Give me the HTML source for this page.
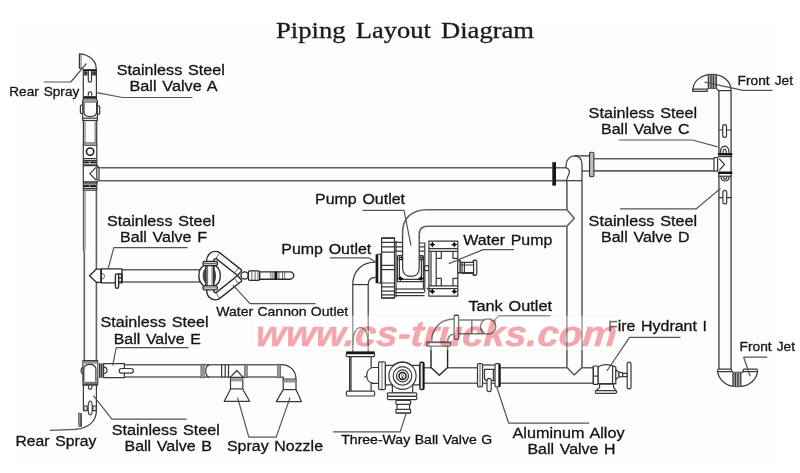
<!DOCTYPE html>
<html>
<head>
<meta charset="utf-8">
<title>Piping Layout Diagram</title>
<style>
  html, body { margin: 0; padding: 0; background: #ffffff; }
  body { width: 800px; height: 473px; overflow: hidden; font-family: "Liberation Sans", sans-serif; }
  svg { display: block; position: absolute; left: 0; top: 0; }
  .l { fill: none; stroke: #383838; stroke-width: 1.2; stroke-linecap: butt; stroke-linejoin: round; }
  .t { fill: none; stroke: #555; stroke-width: 0.9; }
  .k { fill: #161616; stroke: none; }
  .w { fill: #fdfdfb; stroke: #383838; stroke-width: 1.2; stroke-linejoin: round; }
  #cannon .l, #cannon .w { stroke: #2a2a2a; stroke-width: 1.35; }
  #pipes { stroke: #626262; stroke-width: 1.6; }
  #tank .l, #tank .w { stroke: #242424; stroke-width: 1.4; }
  .lead { fill: none; stroke: #545454; stroke-width: 1.2; stroke-linejoin: round; }
  text { font-family: "Liberation Sans", sans-serif; fill: #141414; }
  .ttl { font-family: "Liberation Serif", serif; fill: #1a1a1a; }
  .wm { font-family: "Liberation Sans", sans-serif; font-weight: bold; font-style: italic; fill: #e8505c; }
</style>
</head>
<body>
<svg width="800" height="473" viewBox="0 0 800 473">
  <!-- paper -->
  <rect x="0" y="0" width="800" height="473" fill="#ffffff"/>
  <defs><filter id="soft" x="-5%" y="-5%" width="110%" height="110%"><feGaussianBlur stdDeviation="1.6"/></filter></defs>
  <rect x="18" y="22.5" width="758" height="440" fill="#fdfdfb" filter="url(#soft)"/>

  <rect x="253" y="315.6" width="365" height="34.6" fill="#ffffff" stroke="#f1f1ef" stroke-width="0.6"/>

  <!-- TITLE -->
  <g font-size="22.3" stroke="#1a1a1a" stroke-width="0.3" opacity="0.995">
    <text x="276" y="38.2" textLength="69.5" lengthAdjust="spacingAndGlyphs" class="ttl">Piping</text>
    <text x="355.8" y="38.2" textLength="75" lengthAdjust="spacingAndGlyphs" class="ttl">Layout</text>
    <text x="441" y="38.2" textLength="93" lengthAdjust="spacingAndGlyphs" class="ttl">Diagram</text>
  </g>

  <!-- ============ MAIN PIPES ============ -->
  <g id="pipes" class="l">
    <!-- left vertical pipe -->
    <path d="M83.6 190 V250 L84.3 252 V360.6 M96.4 190 V269.2 M96.4 282.3 V360.6"/>
    <path d="M85.3 191 V250" stroke="#888" stroke-width="0.9"/>
    <!-- top horizontal pipe -->
    <path d="M99 167.7 H552.3 M99 180.8 H552.3 M556 167.7 H566 M556 180.6 H566"/>
    <!-- right part after elbow -->
    <path d="M593.9 158.7 H714 M593.9 170.9 H714"/>
    <!-- right vertical pipe -->
    <path d="M718.9 90.6 V153.1 M718.9 174 V369.2 M731.1 90.6 V369.2"/>
    <!-- middle vertical pipe -->
    <path d="M566.9 180.6 V209.8 M566.9 226.2 V367.4 L574.3 375 L582 367.4 V171"/>
    <!-- pump outlet upper -->
    <path d="M402.6 238 V232 C402.6 218 412 209.8 427 209.8 H566.9 L574.3 218.2 L566.9 226.2 H427.5 C422 226.2 419.2 229 419.2 234.5 V238"/>
    <!-- bottom horizontal pipe -->
    <path d="M424.1 367.8 H431 M447.6 367.8 H566.9 M582 367.8 H593.2 M424.1 383.2 H593.2"/>
    <!-- spray pipe E -->
    <path d="M124.4 364.8 H281 M124.4 377 H230.5 M243.1 377 H281"/>
    <!-- cannon pipe F -->
    <path d="M122 269.7 H199.6 M122 282 H199.6"/>
  </g>

  <!-- ============ TOP-LEFT: rear spray elbow + valve A + tee ============ -->
  <g id="topleft">
    <!-- rear spray elbow -->
    <path class="l" d="M79.4 68.4 V53.8 C88 54.2 95.2 59.5 96.1 67 V69.6"/>
    <path class="t" d="M81 54.3 V68.2"/>
    <path class="l" d="M79.4 68.4 H83.3"/>
    <!-- valve A body -->
    <path class="l" d="M83.3 69.6 V100 M96.4 69.6 V100"/>
    <rect class="k" x="83" y="69.2" width="13.7" height="1.8"/>
    <rect x="84.2" y="71" width="3.2" height="4.6" fill="#555"/>
    <rect x="92.3" y="71" width="3.6" height="4.6" fill="#555"/>
    <path class="l" d="M84.2 72.6 H87.4 M84.2 74.2 H87.4 M92.3 72.6 H95.9 M92.3 74.2 H95.9" stroke="#222"/>
    <path class="l" d="M88.3 70.5 V80.6 A1.6 1.6 0 0 0 91.5 80.6 V70.5"/>
    <path class="l" d="M88.3 95.8 V93.6 A1.7 1.7 0 0 1 91.7 93.6 V95.8" stroke="#222" stroke-width="1.3"/>
    <rect class="k" x="83.6" y="96.2" width="13" height="2.5"/>
    <path class="l" d="M82.7 100 H97.4 M82.7 102 H97.4"/>
    <!-- coupling -->
    <path class="l" d="M82.7 100 V121 M97.4 100 V121"/>
    <path class="l" d="M84 102.5 V112 C84 115 86.5 116.6 90 116.6 C93.6 116.6 96.6 115 96.6 112 V102.5"/>
    <rect class="w" x="80.4" y="105.2" width="2.4" height="8.4" rx="1" fill="#ddd"/>
    <rect class="w" x="97.3" y="105.8" width="2.4" height="8.4" rx="1" fill="#ddd"/>
    <path class="l" d="M82.7 118.2 H97.4"/>
    <path class="l" d="M82.7 120.5 H97.4" stroke="#222" stroke-width="1.5"/>
    <!-- pipe section -->
    <path class="l" d="M83.4 121 V143 M96.7 121 V143"/>
    <path class="t" d="M85 121.5 V142.5 M95.2 121.5 V142.5" stroke="#888"/>
    <!-- O box -->
    <path class="l" d="M83 143 H97 M83 145.2 H97" stroke="#222" stroke-width="1.2"/>
    <path class="l" d="M83.3 143 V190 M96.8 143 V167"/>
    <circle cx="90.1" cy="151.6" r="3.7" fill="none" stroke="#1a1a1a" stroke-width="1.5"/>
    <path class="l" d="M83 158.7 H97 M83 160.5 H97 M83 164.8 H97"/>
    <rect class="k" x="83.6" y="161.4" width="12.8" height="1.9"/>
    <rect x="89" y="161.8" width="1.2" height="1.1" fill="#fff"/>
    <!-- tee -->
    <path class="l" d="M83.3 165.6 H97.6 V167.4 M97.6 180 V182 H83.3"/>
    <path class="l" d="M96.8 167.4 H99 V180 H96.8"/>
    <path class="l" d="M96.8 167.4 V180" stroke="#777"/>
    <path class="l" d="M96 167.4 L89.8 173.7 L96 180" stroke="#222" stroke-width="1.2"/>
    <path class="l" d="M83 182 H97.4" stroke="#222" stroke-width="1.3"/>
    <path class="l" d="M83 183.9 H97 M83 188.3 H97 M83 190.2 H97"/>
    <rect class="k" x="83.6" y="185.1" width="12.8" height="1.9"/>
    <rect x="89" y="185.5" width="1.2" height="1.1" fill="#fff"/>
    <path class="l" d="M96.8 182 V190"/>
  </g>

  <!-- ============ VALVE F + WATER CANNON ============ -->
  <g id="cannon">
    <!-- tip into left pipe -->
    <path class="w" d="M101.2 269.1 H96.4 L89.5 275.7 L96.4 282.3 H101.2 Z"/>
    <!-- valve F body -->
    <rect class="w" x="101.2" y="268.9" width="20.9" height="14"/>
    <path class="l" d="M101.3 268.9 V282.9" stroke="#222" stroke-width="1.6"/>
    <path class="t" d="M101.6 273.4 A2.9 2.9 0 0 1 101.6 279.2" stroke="#333" stroke-width="1"/>
    <rect class="w" x="118.4" y="274" width="3.2" height="7.8" fill="#eee"/>
    <path class="l" d="M118.4 277.9 H121.6"/>
    <rect class="w" x="115.4" y="273.8" width="3.2" height="14.5" rx="1.5"/>
    <!-- pipe F already drawn; cannon ball -->
    <path class="l" d="M199.6 269.6 V282.2"/>
    <path class="w" d="M206 264.8 C201 266 198.9 270.5 198.9 275.6 C198.9 280.8 201 285.2 206 286.6 Z"/>
    <path d="M205.8 268 C201.6 270.4 201.6 281 205.8 283.4 Z" fill="#4a4a4a"/>
    <path class="w" d="M213.7 264.8 C218 266.4 220.3 270.5 220.3 275.6 C220.3 280.8 218 285 213.7 286.6 Z"/>
    <path d="M213.9 268.4 C216.8 270.6 216.8 280.8 213.9 283 Z" fill="#4a4a4a"/>
    <rect class="w" x="206" y="265" width="7.7" height="21.3"/>
    <path class="t" d="M207.6 265.5 V285.8 M212.1 265.5 V285.8" stroke="#888"/>
    <rect class="w" x="203" y="261.5" width="14.4" height="4" rx="1.6"/>
    <rect class="w" x="203" y="285.9" width="14.4" height="4" rx="1.6"/>
    <path class="t" d="M204 263.5 H216.5 M204 287.9 H216.5" stroke="#888"/>
    <!-- Y arms -->
    <path class="l" d="M206.6 261.5 C206.6 255 210.5 251.2 216 251.4 C217.6 251.5 218.8 252 219.8 252.8 L242 270.4"/>
    <path class="l" d="M213.6 261.5 C213.6 259.6 214.6 258.3 216.2 258.6 L237.6 275.5"/>
    <path class="l" d="M206.6 289.9 C206.6 296.2 210.5 300 216 299.8 C217.6 299.7 218.8 299.2 219.8 298.4 L242 280.8"/>
    <path class="l" d="M213.6 289.9 C213.6 291.6 214.6 292.9 216.2 292.6 L237.6 275.5"/>
    <path class="t" d="M219.8 252.8 L215.8 258.4 M219.8 298.4 L215.8 292.8 M238.6 267.8 L234.4 273 M238.6 283.4 L234.4 278.2"/>
    <path class="l" d="M237.6 275.5 L242 270.4 M237.6 275.5 L242 280.8"/>
    <circle class="w" cx="244.6" cy="275.5" r="3.7"/>
    <!-- nozzle -->
    <rect class="w" x="248.4" y="270.8" width="11.3" height="9.6" rx="1.6"/>
    <path class="t" d="M251.9 270.8 V280.4 M255.1 270.8 V280.4 M258 270.8 V280.4" stroke="#333"/>
    <path class="w" d="M259.7 271.8 H290 A3.7 3.7 0 0 1 290 279.2 H259.7 Z"/>
    <path class="t" d="M270.8 271.8 V279.2 M272.9 271.8 V279.2 M278.9 271.8 V279.2 M282.5 271.8 V279.2 M284.7 271.8 V279.2" stroke="#333"/>
    <rect class="k" x="274.4" y="271.6" width="2.9" height="7.8"/>
  </g>

  <!-- ============ BOTTOM-LEFT: tee, valve E, valve B, rear spray elbow ============ -->
  <g id="botleft">
    <!-- tee body -->
    <rect class="w" x="82.9" y="360.6" width="14.8" height="24.3"/>
    <rect x="83.4" y="361" width="13.8" height="2.6" fill="#8a8a8a"/>
    <rect x="83.4" y="381.8" width="13.8" height="2.8" fill="#777"/>
    <path class="l" d="M83.8 381.8 V369.5 C83.8 366 86 364.3 89.9 364.3 C93.8 364.3 95.9 366 95.9 369.5 V381.8" stroke="#222" stroke-width="1.5" fill="#fdfdfb"/>
    <path class="l" d="M83 367 C80.4 368 80.4 373.4 83 374.4"/>
    <path class="l" d="M82.9 384.9 H97.7" stroke="#222" stroke-width="1.3"/>
    <!-- connector to valve E -->
    <rect x="97.7" y="363.5" width="5.9" height="14.2" fill="#bbb"/>
    <path class="l" d="M99.6 363.3 V377.9 M103.2 363.3 V377.9" stroke="#222" stroke-width="1.5"/>
    <path class="l" d="M101.3 363.5 V377.7" stroke-width="0.8"/>
    <!-- valve E body -->
    <path class="w" d="M103.6 363.7 H124.4 V377.7 H103.6 Z"/>
    <path class="l" d="M103.8 367.1 A3.2 3.2 0 0 1 103.8 373.5" stroke-width="1.2" stroke="#222"/>
    <rect class="w" x="119.2" y="368.5" width="14.2" height="4.6" rx="2.3"/>
    <!-- below tee: valve B -->
    <path class="l" d="M83.4 385 V410.7 M96.4 385 V410.7"/>
    <path class="l" d="M88.5 385.6 V387.6 A1.7 1.7 0 0 0 91.9 387.6 V385.6"/>
    <rect class="w" x="83.9" y="406" width="3.2" height="4.7" stroke="#222" stroke-width="1.4"/>
    <rect class="w" x="92.9" y="406" width="3.2" height="4.7" stroke="#222" stroke-width="1.4"/>
    <path class="l" d="M87 408.3 H93"/>
    <ellipse class="w" cx="90.2" cy="408" rx="2.1" ry="6.9"/>
    <!-- rear spray elbow (bottom) -->
    <path class="l" d="M96.4 410.7 C96.4 421 88 428.6 76 429.2"/>
    <path d="M78.4 413 L81 413.4 L81.2 426.6 L78.8 426.4 Z" fill="#999" stroke="#444" stroke-width="0.7"/>
    <path class="l" d="M81.2 413.4 V426.6" stroke="#222"/>
  </g>

  <!-- ============ SPRAY PIPE + NOZZLES ============ -->
  <g id="spray">
    <rect x="200.9" y="364.2" width="3.3" height="13.6" fill="#999" stroke="#555" stroke-width="0.7"/>
    <path class="l" d="M209.2 364.8 C204.6 366 204.6 376 209.2 377.2"/>
        <path class="l" d="M221.6 364.2 V377.8 M225.2 364.2 V377.8" stroke="#333" stroke-width="1.6"/>
    <path class="l" d="M228.5 364.2 V377.8" stroke-width="1"/>
    <path class="l" d="M230.5 377.2 L236.7 370.5 L243.1 377.2" stroke="#222"/>
    <rect x="244.6" y="364.2" width="2.6" height="13.6" fill="#999" stroke="#555" stroke-width="0.7"/>
    <rect x="277.7" y="364.2" width="2.9" height="13.6" fill="#999" stroke="#555" stroke-width="0.7"/>
    <!-- nozzle 1 -->
    <path class="w" d="M230.5 377.4 H242.8 V389.3 L249.6 401.3 H224.2 L230.5 389.3 Z"/>
    <rect x="230.9" y="378.2" width="11.5" height="3.2" fill="#999"/>
    <path class="l" d="M230.5 388.9 H242.8"/>
    <!-- elbow -->
    <path class="l" d="M281 364.6 C290 364.6 296 370.5 296 379.4"/>
    <path class="l" d="M281 377.2 H283.2 V379.4"/>
    <!-- nozzle 2 -->
    <path class="w" d="M283.2 379.2 H296 V389.6 L301.4 401.6 H276.3 L283.2 389.6 Z"/>
    <rect x="283.6" y="379.4" width="12" height="3.2" fill="#999"/>
    <path class="l" d="M283.2 389.6 H296"/>
  </g>

  <!-- ============ PUMP ============ -->
  <g id="pump">
    <!-- lower-left outlet elbow -->
    <path class="l" d="M375.6 262.2 C362 262.2 352.8 271 352.8 284.6 V351.6"/>
    <path class="l" d="M375.6 277.4 C371 277.6 368.2 280.4 368.2 284.6 V351.6"/>
    <path class="l" d="M352.8 284.6 H368.2"/>
    <path class="l" d="M352.8 346 C353 334 356 327.6 360.5 327.6 C365 327.6 368 334 368.2 346"/>
    <!-- black flange -->
    <rect class="k" x="375.6" y="254.2" width="2.7" height="29"/>
    <path class="l" d="M378.3 254.2 H380.7 V283.2 H378.3"/>
    <!-- ribbed drum -->
    <rect class="w" x="381.6" y="237.9" width="12.9" height="60.2"/>
    <path class="l" d="M381.2 238.4 H394.8 M381.2 242.4 H394.8 M381.2 246.8 H394.8 M381.2 252.2 H394.8 M381.2 283 H394.8 M381.2 286.8 H394.8 M381.2 291.2 H394.8 M381.2 294.9 H394.8 M381.2 297.9 H394.8" stroke="#222" stroke-width="1.5"/>
    <path class="l" d="M381.6 265.3 H394.4 M381.6 269.6 H394.4" stroke-width="1"/>
    <path class="l" d="M396 241 V297" stroke-width="0.8"/>
    <!-- connecting rods upper-left -->
    <path class="l" d="M394.4 242.4 H402.6 M394.4 246.8 H402.6 M394.4 251.2 H402.6" stroke-width="1"/>
    <!-- right stacked blocks -->
    <path class="l" d="M418.6 243 H424.6 M418.6 246.8 H424.6 M418.6 251.2 H424.6" stroke-width="1"/>
    <!-- lower rod -->
    <path class="l" d="M394.4 289 H424.6" stroke="#222" stroke-width="1.4"/>
    <path class="l" d="M394.4 292.7 H424.6 M394.4 295.6 H424.6" stroke-width="1"/>
    <path class="l" d="M423.4 281.6 V289" stroke-width="0.9"/>
    <!-- bracket around U -->
    <path class="l" d="M397.4 255.7 V281.6 H423.4 V255.7 M397.4 255.7 H402.6 M418.6 255.7 H423.4" stroke="#222" stroke-width="1.3"/>
    <path class="l" d="M399.4 260 V279.4 H421.4 V260" stroke-width="0.8"/>
    <g fill="#0c0c0c">
      <path d="M398.6 256.6 h3.6 v3.6 h-3.6z"/><rect x="399.7" y="257.7" width="1.4" height="1.4" fill="#fff"/>
      <path d="M419.2 256.6 h3.6 v3.6 h-3.6z"/><rect x="420.3" y="257.7" width="1.4" height="1.4" fill="#fff"/>
      <path d="M400.3 276.2 l2.2 2.4 -2.2 2.4 -2.2-2.4z M397.6 278.1 h5.6 v1 h-5.6z"/>
      <path d="M421 276.2 l2.2 2.4 -2.2 2.4 -2.2-2.4z M418.2 278.1 h5.6 v1 h-5.6z"/>
    </g>
    <!-- U pipe (upper outlet) -->
    <path class="w" d="M402.6 236 V268 C402.6 273.4 406 276.4 410.9 276.4 C415.8 276.4 419.2 273.4 419.2 268 V236" stroke-width="1.3"/>
    <!-- vertical plate -->
    <path class="l" d="M424.8 242.4 V292" stroke="#222" stroke-width="1.5"/>
    <rect x="424.7" y="265.8" width="4.2" height="4.8" fill="#fdfdfb" stroke="#222" stroke-width="1.1"/>
    <!-- motor body -->
    <rect class="w" x="428.9" y="241.2" width="28.9" height="54.9"/>
    <path class="l" d="M428.9 248.7 H457.8 M428.9 288.6 H457.8" stroke-width="0.9"/>
    <path class="l" d="M428.9 251.4 H457.8 M428.9 285.9 H457.8" stroke="#222" stroke-width="1.5"/>
    <path class="l" d="M431 251.4 V285.9" stroke-width="0.9"/>
    <path class="l" d="M436.2 251.4 V285.9" stroke="#222" stroke-width="1.3"/>
    <path class="l" d="M436.2 258.4 H441.3 V251.4 M453 251.4 V258.4 H457.8 M436.2 278.3 H441.3 V285.9 M453 285.9 V278.3 H457.8" stroke-width="1.1"/>
    <g fill="#0c0c0c">
      <path d="M432.4 242.2 l1.2 1.2 1.2 1.2 -1.2 1.2 -1.2 1.2 -1.2-1.2 -1.2-1.2 1.2-1.2z M429.8 244.1 h5.2 v1 h-5.2z M431.9 242 h1 v5.2 h-1z"/>
      <path d="M454.3 242.2 l1.2 1.2 1.2 1.2 -1.2 1.2 -1.2 1.2 -1.2-1.2 -1.2-1.2 1.2-1.2z M451.7 244.1 h5.2 v1 h-5.2z M453.8 242 h1 v5.2 h-1z"/>
      <path d="M432.4 289.2 l1.2 1.2 1.2 1.2 -1.2 1.2 -1.2 1.2 -1.2-1.2 -1.2-1.2 1.2-1.2z M429.8 291.1 h5.2 v1 h-5.2z M431.9 289 h1 v5.2 h-1z"/>
      <path d="M454.3 289.2 l1.2 1.2 1.2 1.2 -1.2 1.2 -1.2 1.2 -1.2-1.2 -1.2-1.2 1.2-1.2z M451.7 291.1 h5.2 v1 h-5.2z M453.8 289 h1 v5.2 h-1z"/>
    </g>
    <path class="l" d="M426.8 287.9 L431.4 291.4" stroke="#111" stroke-width="1.3"/>
    <!-- shaft -->
    <rect class="w" x="458" y="260.4" width="2.2" height="12.4"/>
    <rect class="w" x="461.9" y="262.5" width="11" height="11"/>
    <path class="l" d="M460.2 263.5 H461.9 M460.2 272 H461.9 M461.9 268 H472.9 M463.8 262.5 V273.5" stroke-width="0.8"/>
    <rect class="w" x="472.9" y="260" width="3.4" height="15.5" rx="1.6"/>
  </g>
    <!-- shaft -->
    <rect class="w" x="457.7" y="260.8" width="2.5" height="11.8"/>
    <rect class="w" x="460.2" y="262.4" width="13.4" height="10.2"/>
    <path class="l" d="M462 262.4 V272.6 M464.4 262.4 V272.6 M460.2 265 H473.6" stroke-width="0.8"/>
    <rect class="w" x="473.6" y="260.2" width="3.2" height="14.8" rx="1.5"/>
  </g>

  <!-- ============ THREE-WAY VALVE G ============ -->
  <g id="valveG">
    <!-- top flange of tee -->
    <rect class="w" x="346.2" y="353.6" width="28.4" height="3" rx="1"/>
    <rect class="k" x="346.1" y="351.4" width="28.6" height="2.6"/>
    <!-- tee body -->
    <path class="l" d="M349.6 356.6 V391.2 M371.1 356.6 V367.5 M371.1 383.4 V391.2 M351 356.6 V391.2"/>
    <rect class="w" x="346.4" y="391.2" width="28.2" height="4.8" rx="1.2"/>
    <!-- branch -->
    <path class="l" d="M371.1 367.5 H379 M371.1 383.4 H379"/>
    <path class="l" d="M373 367.5 C364.6 368.6 364.6 382.4 373 383.4"/>
    <path class="l" d="M364.2 376.9 H366.8" stroke-width="0.8"/>
    <!-- flange (left of valve) -->
    <rect class="w" x="378.6" y="361.8" width="6.8" height="27.9" rx="1.4" stroke="#2a2a2a" stroke-width="1.4"/>
    <path class="t" d="M382 362.6 V389" stroke="#444"/>
    <!-- housing -->
    <path class="w" d="M385.4 365.3 H393.6 A13.6 13.6 0 0 1 411.4 365.3 H419.6 V384.8 H412.8 C412.9 386.4 412.7 387 412.7 387.6 V392.8 H392.4 V387.6 C392.4 387 392.2 386.4 392.2 384.8 H385.4 Z"/>
    <circle class="l" cx="402.5" cy="375.7" r="13.6"/>
    <circle class="l" cx="402.5" cy="375.9" r="9.3"/>
    <circle class="l" cx="402.5" cy="375.9" r="6"/>
    <circle cx="402.5" cy="375.9" r="3.5" fill="none" stroke="#1a1a1a" stroke-width="1.5"/>
    <path class="l" d="M402.5 376.6 V379.4" stroke-width="1"/>
    <circle cx="402.5" cy="375.6" r="1" fill="#fdfdfb" stroke="#333" stroke-width="0.7"/>
    <!-- right flange -->
    <rect x="419.9" y="362.2" width="3.9" height="27.4" rx="1.3" fill="#e4e4e4" stroke="#1c1c1c" stroke-width="1.4"/>
    <rect x="422.6" y="362.6" width="1.7" height="26.6" fill="#111"/>
    <!-- bottom outlet -->
    <rect class="w" x="387.4" y="392.8" width="29.4" height="3.5" rx="1.2"/>
    <rect class="w" x="387.4" y="396.3" width="29.4" height="3.4" rx="1.2"/>
    <rect class="w" x="397" y="399.7" width="12.6" height="10"/>
    <rect class="w" x="395.9" y="400.3" width="14.7" height="4.1" rx="1"/>
    <rect class="w" x="395.9" y="409.4" width="14.7" height="3.6" rx="0.8"/>
    <path class="l" d="M395.9 413.1 H410.6" stroke="#111" stroke-width="1.6"/>
  </g>

  <!-- ============ TANK OUTLET ============ -->
  <g id="tank">
    <path class="l" d="M431.6 342.3 C431.6 328 440 319.4 454.2 319"/>
    <path class="l" d="M447.5 342.3 C447.5 337.4 450 334.4 454.2 334.2"/>
    <rect class="w" x="426.8" y="342.3" width="23.9" height="3.8" rx="1"/>
    <rect class="k" x="426.6" y="341.5" width="24.3" height="1.7"/>
    <path class="l" d="M431 346.1 V367.4 L439.4 375.2 L447.6 367.4 V346.1"/>
    <rect class="w" x="454.2" y="315.3" width="4.4" height="23.9" rx="1.2"/>
    <path class="l" d="M458.5 320 H484.5 M458.5 333.8 H485.5 M471.8 320 V333.8"/>
    <circle class="l" cx="488.1" cy="326.6" r="7.7"/>
  </g>

  <!-- ============ VALVE H ============ -->
  <g id="valveH">
    <rect x="482" y="364.4" width="13.4" height="18" fill="#fdfdfb"/>
    <path class="l" d="M482.6 365 H494.9"/>
    <path class="l" d="M494.9 369.3 H484.5 V377.6 C484.5 379.6 485.4 380.7 487 380.7 M491.2 380.7 H494.9" stroke-width="1.1"/>
    <path class="l" d="M493.4 369.3 V380.7" stroke="#222" stroke-width="1.3"/>
    <rect class="w" x="477.5" y="363.7" width="5.1" height="23.1" rx="1.4" stroke="#2a2a2a" stroke-width="1.4"/>
    <path class="t" d="M480 364.6 V386" stroke="#777"/>
    <rect class="w" x="495" y="363.7" width="5.1" height="23.1" rx="1.4" stroke="#2a2a2a" stroke-width="1.4"/>
    <rect x="498.4" y="364.2" width="1.9" height="22.2" fill="#111"/>
    <rect class="w" x="487" y="378.3" width="4.2" height="13.3" rx="2.1"/>
  </g>


  <!-- ============ FIRE HYDRANT ============ -->
  <g id="hydrant">
    <rect class="w" x="593.2" y="366" width="5" height="18.4" rx="0.8"/>
    <path class="l" d="M593.4 366 V384.4" stroke="#222" stroke-width="1.5"/>
    <path class="l" d="M593.2 376.1 H598.2"/>
    <path class="w" d="M598.2 367 C600.5 365.2 603 364.6 605.6 364.6 C609.6 364.6 613.4 365.6 615.8 367.3 V383.7 H598.2 Z"/>
    <path class="l" d="M612.6 366 V383.7" stroke-width="0.8"/>
    <path class="w" d="M599.6 384.2 H613.6 V387.4 L616 390.7 H596.2 L599.6 387.4 Z"/>
    <rect class="w" x="595.4" y="390.6" width="21.2" height="2.8" rx="1.2"/>
    <path class="w" d="M615.8 369.8 L618.9 372.2 V376.9 L615.8 379.4 Z"/>
    <rect class="w" x="618.9" y="372.4" width="3.8" height="4.5" rx="1"/>
    <rect class="w" x="622.7" y="373.4" width="4.6" height="3.2"/>
    <rect class="w" x="627.2" y="362.2" width="3.8" height="26.6" rx="1.9"/>
  </g>

  <!-- ============ MIDDLE ELBOW ============ -->
  <g id="elbow">
    <rect class="k" x="552.3" y="162.2" width="3.7" height="23.4"/>
    <path class="l" d="M566 167.8 V165.4 C566.2 159.8 569.6 155.9 574.6 155.9 H589.5"/>
    <path class="l" d="M574.6 155.9 C579 156.1 581.8 159.2 582 163.8 V171"/>
    <path class="l" d="M582 171 H589.5"/>
    <path class="l" d="M566 167.8 C567.4 168 569.6 169.8 569.4 172 C569.2 175 566.8 177.4 566.6 180.2"/>
    <path class="l" d="M566 180.7 H582"/>
    <rect x="589.5" y="152.3" width="4.4" height="24.5" rx="1.3" fill="#bbb" stroke="#333" stroke-width="1.1"/>
  </g>

  <!-- ============ RIGHT COLUMN ============ -->
  <g id="rightcol">
    <!-- top front jet -->
    <path class="l" d="M692.8 90.4 C693 81 701 74.4 712 74.3 C722.6 74.3 730.8 80.6 731.2 90.6"/>
    <path class="l" d="M692.8 89.2 H707.2 V91.4 H692.8 Z" fill="#777"/>
    <path class="l" d="M707.2 89 L709 88.4 H716.4 L718.6 90.6 H731.2"/>
    <path class="l" d="M709 74.8 V88.4 M716.4 74.8 V88.4"/>
    <rect x="707.9" y="74.8" width="8.6" height="13.6" fill="#aaa"/>
    <path class="l" d="M708.4 74.8 V88.4 M711 74.8 V88.4 M713.4 74.8 V88.4 M716.2 74.8 V88.4" stroke="#222" stroke-width="1.2"/>
    <!-- valve C -->
    <path class="l" d="M718.7 130 H722.8 M726.5 130 H731.4"/>
    <rect class="w" x="722.7" y="124.6" width="3.8" height="12.8" rx="1.9"/>
    <path class="l" d="M720.4 153.1 C720.4 148.4 722.2 146.2 724.7 146.2 C727.2 146.2 729 148.4 729 153.1" stroke="#222" stroke-width="1.3"/>
    <path class="l" d="M723 153.1 C723 150 723.6 149 724.7 149 C725.8 149 726.3 150 726.3 153.1" stroke="#222" stroke-width="0.9"/>
    <rect class="k" x="717.8" y="153.1" width="14.6" height="2.4" rx="0.8"/>
    <path class="l" d="M718 156.6 H732"/>
    <!-- tee with > -->
    <path class="w" d="M714 157.6 H717.6 V171.2 H714 Z" fill="#ddd"/>
    <path class="l" d="M719.2 158.6 L724.4 164.5 L719.2 170.4" stroke="#222" stroke-width="1.2"/>
    <rect class="k" x="717.8" y="171.6" width="14.6" height="2.4" rx="0.8"/>
    <path class="l" d="M718 176.2 H732"/>
    <path class="l" d="M721 176.2 C721 179.6 722.6 181 725 181 C727.4 181 729.2 179.6 729.2 176.2" stroke="#222"/>
    <path class="l" d="M723.4 176.4 C723.4 178.6 724 179.2 725 179.2 C726 179.2 726.8 178.6 726.8 176.4" stroke="#222" stroke-width="0.9"/>
    <!-- valve D handle -->
    <path class="l" d="M718.7 197.7 H722.9 M726.7 197.7 H731.4"/>
    <rect class="w" x="722.9" y="190.4" width="3.8" height="13.4" rx="1.9"/>
    <!-- bottom front jet -->
    <path class="l" d="M717.5 370 C718 379.6 726 386.7 737.6 386.7 C749.2 386.7 757.2 379.6 757.7 370"/>
    <path class="l" d="M717.5 369.2 H731.1 L732.7 372.4 H742.5 L743.7 369.2 H757.7 M717.5 371.6 H731.6 M743.4 371.6 H757.7"/>
    <rect x="732.6" y="372.4" width="8.6" height="14" fill="#aaa"/>
    <path class="l" d="M733 372.4 V386.2 M735.4 372.4 V386.6 M738 372.4 V386.6 M740.8 372.4 V386.4" stroke="#222" stroke-width="1.2"/>
  </g>

  <!-- ============ LEADER LINES ============ -->
  <g id="leaders" class="lead">
    <path d="M86.4 63.5 L70.8 82 H43.8"/>
    <path d="M96.6 92.6 L122.5 97.5 H192.5"/>
    <path d="M704.6 82.2 L743 90.4 H772.5"/>
    <path d="M618.8 140 H692.5 L717.5 146.8"/>
    <path d="M620 208.8 H696.3 L720.6 188.4"/>
    <path d="M362.5 210.4 H404 L411 245.6"/>
    <path d="M330 257.8 H368.6 L375.6 262"/>
    <path d="M448.8 263.6 L483.2 249.6 H514"/>
    <path d="M108.2 268.6 L113.8 247.6 H187.7"/>
    <path d="M232.9 285.2 L250 303.6 H315.5"/>
    <path d="M112.7 365.6 L116.2 347.7 H188.6"/>
    <path d="M493.6 321.1 L498.6 315.8 H550.5"/>
    <path d="M606.9 371 L629.5 337.3 H680.5"/>
    <path d="M750.1 376.2 L743.7 357.2 H767.2"/>
    <path d="M76 429.3 L50 430.3"/>
    <path d="M93.4 395.6 L111.9 419.2 H186.5"/>
    <path d="M237.6 397.6 L248.8 437.1 H276.2 L290 397.6"/>
    <path d="M406.1 413.6 L400.2 431.9 H333"/>
    <path d="M497 387.8 L508.7 423.2 H589.1"/>
  </g>

  <!-- ============ TEXT ============ -->
  <g id="labels" style="word-spacing:1.2px" opacity="0.995" stroke="#141414" stroke-width="0.3">
    <text x="9.25" y="96" font-size="13.4" textLength="70" lengthAdjust="spacingAndGlyphs">Rear Spray</text>
    <text x="116.75" y="74.8" font-size="15.2" textLength="108" lengthAdjust="spacingAndGlyphs">Stainless Steel</text>
    <text x="129.5" y="91.3" font-size="15.2" textLength="88" lengthAdjust="spacingAndGlyphs">Ball Valve A</text>
    <text x="737.5" y="85" font-size="13.4" textLength="55.5" lengthAdjust="spacingAndGlyphs">Front Jet</text>
    <text x="588.6" y="118" font-size="15.2" textLength="108.6" lengthAdjust="spacingAndGlyphs">Stainless Steel</text>
    <text x="601" y="134.25" font-size="15.2" textLength="88.5" lengthAdjust="spacingAndGlyphs">Ball Valve C</text>
    <text x="588.6" y="225.5" font-size="15.2" textLength="108.6" lengthAdjust="spacingAndGlyphs">Stainless Steel</text>
    <text x="601" y="241.5" font-size="15.2" textLength="88.5" lengthAdjust="spacingAndGlyphs">Ball Valve D</text>
    <text x="315" y="204.25" font-size="15.2" textLength="90" lengthAdjust="spacingAndGlyphs">Pump Outlet</text>
    <text x="281.25" y="253.5" font-size="15.2" textLength="90" lengthAdjust="spacingAndGlyphs">Pump Outlet</text>
    <text x="463.3" y="245.2" font-size="15.2" textLength="89" lengthAdjust="spacingAndGlyphs">Water Pump</text>
    <text x="107" y="225.5" font-size="15.2" textLength="108" lengthAdjust="spacingAndGlyphs">Stainless Steel</text>
    <text x="120" y="242" font-size="15.2" textLength="87" lengthAdjust="spacingAndGlyphs">Ball Valve F</text>
    <text x="216.25" y="316" font-size="12.8" textLength="132" lengthAdjust="spacingAndGlyphs" style="word-spacing:0.3px">Water Cannon Outlet</text>
    <text x="100.5" y="326.5" font-size="15.2" textLength="108" lengthAdjust="spacingAndGlyphs">Stainless Steel</text>
    <text x="113.75" y="343.5" font-size="15.2" textLength="87" lengthAdjust="spacingAndGlyphs">Ball Valve E</text>
    <text x="468.4" y="311.4" font-size="15.2" textLength="83.6" lengthAdjust="spacingAndGlyphs">Tank Outlet</text>
    <text x="608" y="330.5" font-size="15.2" textLength="99" lengthAdjust="spacingAndGlyphs">Fire Hydrant I</text>
    <text x="739.5" y="350.5" font-size="13.4" textLength="55.5" lengthAdjust="spacingAndGlyphs">Front Jet</text>
    <text x="15.5" y="446" font-size="15.2" textLength="80.75" lengthAdjust="spacingAndGlyphs">Rear Spray</text>
    <text x="111.75" y="435" font-size="15.2" textLength="108" lengthAdjust="spacingAndGlyphs">Stainless Steel</text>
    <text x="124.5" y="451" font-size="15.2" textLength="87.5" lengthAdjust="spacingAndGlyphs">Ball Valve B</text>
    <text x="227" y="451" font-size="15.2" textLength="96" lengthAdjust="spacingAndGlyphs">Spray Nozzle</text>
    <text x="341.25" y="444" font-size="12.9" textLength="151" lengthAdjust="spacingAndGlyphs" style="word-spacing:0.6px">Three-Way Ball Valve G</text>
    <text x="512.5" y="437.75" font-size="15.2" textLength="112" lengthAdjust="spacingAndGlyphs">Aluminum Alloy</text>
    <text x="527.5" y="454" font-size="15.2" textLength="88" lengthAdjust="spacingAndGlyphs">Ball Valve H</text>
  </g>

  <!-- ============ WATERMARK ============ -->
  <g id="watermark">
    <rect x="253" y="315.6" width="365" height="34.6" fill="#ffffff" fill-opacity="0.4"/>
    <g opacity="0.5" style="mix-blend-mode:multiply">
      <text class="wm" x="255" y="346.2" font-size="36" textLength="361" lengthAdjust="spacingAndGlyphs" stroke="#e8505c" stroke-width="0.5" transform="translate(0 346.2) skewX(-4) translate(0 -346.2)">www.cs-trucks.com</text>
    </g>
  </g>
</svg>
</body>
</html>
